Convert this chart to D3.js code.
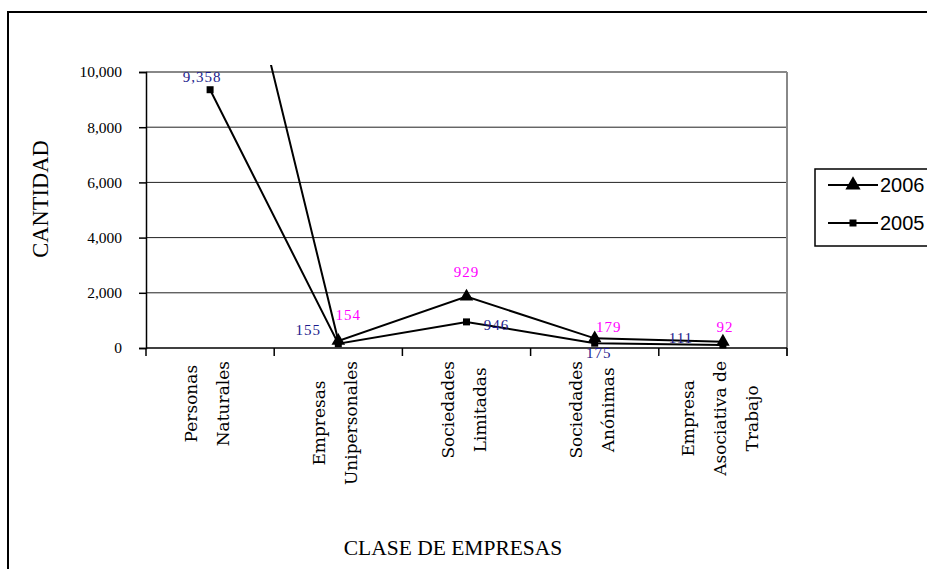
<!DOCTYPE html>
<html>
<head>
<meta charset="utf-8">
<script src="https://cdn.jsdelivr.net/npm/d3@7/dist/d3.min.js"></script>
<style>
  html, body { margin: 0; padding: 0; background: #fff; }
  svg { display: block; }
</style>
</head>
<body>
<svg id="chart" width="927" height="569"></svg>
<script>
// ---- data ----
const categories = ["Personas Naturales", "Empresas Unipersonales", "Sociedades Limitadas", "Sociedades Anónimas", "Empresa Asociativa de Trabajo"];
const categoryLines = [["Personas", "Naturales"], ["Empresas", "Unipersonales"], ["Sociedades", "Limitadas"], ["Sociedades", "Anónimas"], ["Empresa", "Asociativa de", "Trabajo"]];
const values2006 = [19300, 260, 1860, 350, 228];
const values2005 = [9358, 155, 946, 175, 111];
const labels2006 = [null, "154", "929", "179", "92"];
const labels2005 = ["9,358", "155", "946", "175", "111"];
const yTicks = [0, 2000, 4000, 6000, 8000, 10000];
const seriesNames = ["2006", "2005"];

// ---- layout ----
const svg = d3.select("#chart");
const plot = { left: 146, right: 787, top: 72, bottom: 348 };

svg.append("rect").attr("width", 927).attr("height", 569).attr("fill", "#fff");
// outer chart border (extends beyond the picture on right and bottom)
svg.append("rect").attr("x", 8).attr("y", 12).attr("width", 1000).attr("height", 700)
  .attr("fill", "none").attr("stroke", "#000").attr("stroke-width", 2);

const x = d3.scaleBand().domain(categories).range([plot.left, plot.right]).paddingInner(0).paddingOuter(0);
const y = d3.scaleLinear().domain([0, 10000]).range([plot.bottom, plot.top]);
const cx = c => x(c) + x.bandwidth() / 2;

// gridlines
svg.append("g").selectAll("line").data(yTicks.filter(t => t > 0 && t < 10000)).join("line")
  .attr("x1", plot.left).attr("x2", plot.right)
  .attr("y1", d => y(d)).attr("y2", d => y(d))
  .attr("stroke", "#222").attr("stroke-width", 1);
// plot area border top/right in grey
svg.append("line").attr("x1", plot.left).attr("x2", plot.right).attr("y1", y(10000)).attr("y2", y(10000))
  .attr("stroke", "#888").attr("stroke-width", 2);
svg.append("line").attr("x1", plot.right).attr("x2", plot.right).attr("y1", plot.top).attr("y2", plot.bottom + 8)
  .attr("stroke", "#888").attr("stroke-width", 2);

// y axis
const yAxis = d3.axisLeft(y).tickValues(yTicks).tickSize(7).tickPadding(17).tickFormat(d3.format(","));
const gy = svg.append("g").attr("transform", `translate(${plot.left},0)`).call(yAxis);
gy.select(".domain").attr("stroke", "#000").attr("stroke-width", 1.5);
gy.selectAll(".tick line").attr("stroke", "#000").attr("stroke-width", 1.5);
gy.selectAll(".tick text").attr("font-family", "'Liberation Serif', 'Times New Roman', serif")
  .attr("font-size", 15.5).attr("fill", "#000");

// x axis line and boundary ticks
svg.append("line").attr("x1", plot.left).attr("x2", plot.right).attr("y1", plot.bottom).attr("y2", plot.bottom)
  .attr("stroke", "#000").attr("stroke-width", 1.5);
const boundaries = categories.map(c => x(c)).concat([plot.right]);
svg.append("g").selectAll("line").data(boundaries).join("line")
  .attr("x1", d => d).attr("x2", d => d).attr("y1", plot.bottom).attr("y2", plot.bottom + 8)
  .attr("stroke", "#000").attr("stroke-width", 1.5);

// category labels (rotated)
const catFont = 17, lineGap = 32, labelTop = 361;
categories.forEach((c, i) => {
  const lines = categoryLines[i];
  const g = svg.append("g");
  const texts = lines.map((ln, j) => g.append("text").text(ln)
    .attr("font-family", "'DejaVu Serif', serif").attr("font-size", catFont).attr("fill", "#000")
    .attr("text-anchor", "middle").attr("dominant-baseline", "central"));
  const maxLen = d3.max(texts.map(t => t.node().getComputedTextLength()));
  const n = lines.length;
  texts.forEach((t, j) => t.attr("x", 0).attr("y", (j - (n - 1) / 2) * lineGap));
  g.attr("transform", `translate(${cx(c) - 3},${labelTop + maxLen / 2}) rotate(-90)`);
});

// axis titles
svg.append("text").text("CLASE DE EMPRESAS").attr("x", 453).attr("y", 555)
  .attr("text-anchor", "middle").attr("font-family", "'Liberation Serif', 'Times New Roman', serif")
  .attr("font-size", 21.5).attr("fill", "#000");
svg.append("text").text("CANTIDAD").attr("transform", "translate(48,199) rotate(-90)")
  .attr("text-anchor", "middle").attr("font-family", "'Liberation Serif', 'Times New Roman', serif")
  .attr("font-size", 22.5).attr("fill", "#000");

// clip for lines
svg.append("clipPath").attr("id", "clip").append("rect")
  .attr("x", plot.left).attr("y", 65).attr("width", plot.right - plot.left).attr("height", plot.bottom - 65 + 10);

const line = d3.line().x((d, i) => cx(categories[i])).y(d => y(d));
const gl = svg.append("g").attr("clip-path", "url(#clip)");
gl.append("path").datum(values2006).attr("d", line).attr("fill", "none").attr("stroke", "#000").attr("stroke-width", 2);
gl.append("path").datum(values2005).attr("d", line).attr("fill", "none").attr("stroke", "#000").attr("stroke-width", 2);

const tri = d3.symbol().type(d3.symbolTriangle).size(80);
const sq = d3.symbol().type(d3.symbolSquare).size(49);
gl.selectAll(".m6").data(values2006).join("path").attr("d", tri)
  .attr("transform", (d, i) => `translate(${cx(categories[i])},${y(d)})`).attr("fill", "#000");
gl.selectAll(".m5").data(values2005).join("path").attr("d", sq)
  .attr("transform", (d, i) => `translate(${cx(categories[i])},${y(d)})`).attr("fill", "#000");

// data labels (offsets relative to each point)
const off2005 = [[-8, -8], [-30, -9], [30, 8], [4, 15], [-42, -2]];
const off2006 = [[0, 0], [10, -21], [0, -20], [14, -6], [2, -10]];
const lblFont = "'Liberation Serif', 'Times New Roman', serif";
labels2005.forEach((t, i) => {
  if (!t) return;
  svg.append("text").text(t).attr("x", cx(categories[i]) + off2005[i][0]).attr("y", y(values2005[i]) + off2005[i][1])
    .attr("text-anchor", "middle").attr("font-family", lblFont).attr("font-size", 15)
    .attr("letter-spacing", 1).attr("fill", "#1c1c8c");
});
labels2006.forEach((t, i) => {
  if (!t) return;
  svg.append("text").text(t).attr("x", cx(categories[i]) + off2006[i][0]).attr("y", y(values2006[i]) + off2006[i][1])
    .attr("text-anchor", "middle").attr("font-family", lblFont).attr("font-size", 15)
    .attr("letter-spacing", 1).attr("fill", "#ff00ff");
});

// legend
const lg = svg.append("g");
lg.append("rect").attr("x", 815).attr("y", 169).attr("width", 200).attr("height", 77)
  .attr("fill", "#fff").attr("stroke", "#000").attr("stroke-width", 1.5);
const legY = [185, 223];
seriesNames.forEach((s, i) => {
  lg.append("line").attr("x1", 828).attr("x2", 878).attr("y1", legY[i]).attr("y2", legY[i])
    .attr("stroke", "#000").attr("stroke-width", 2);
  lg.append("path").attr("d", i === 0 ? d3.symbol().type(d3.symbolTriangle).size(100)() : d3.symbol().type(d3.symbolSquare).size(49)())
    .attr("transform", `translate(853,${legY[i]})`).attr("fill", "#000");
  lg.append("text").text(s).attr("x", 880).attr("y", legY[i]).attr("dominant-baseline", "central")
    .attr("font-family", "'Liberation Sans', Arial, sans-serif").attr("font-size", 20).attr("fill", "#000");
});
</script>
</body>
</html>
